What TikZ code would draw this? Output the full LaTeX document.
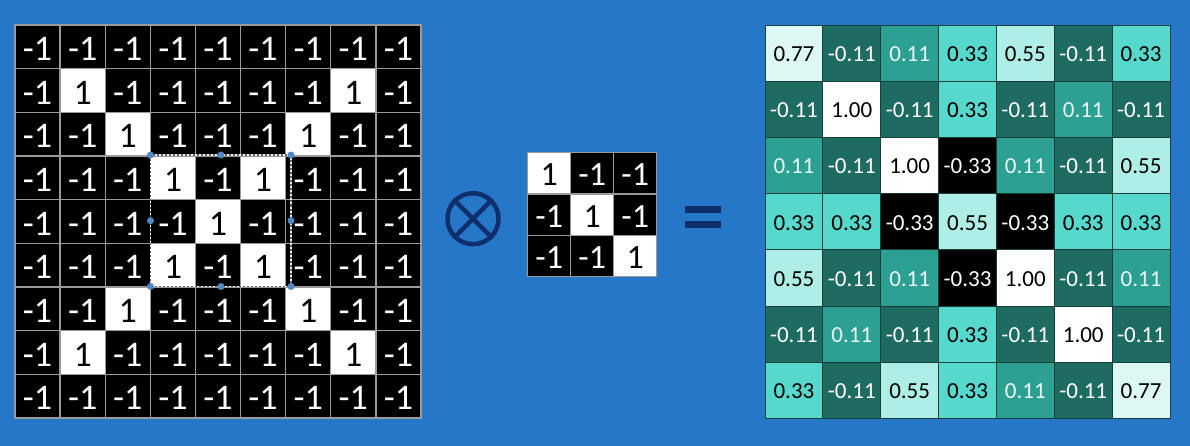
\documentclass[tikz,border=0pt]{standalone}
\usepackage{fontspec}
\setmainfont{Carlito}
\definecolor{bgblue}{HTML}{2677C7}
\definecolor{navy}{HTML}{0F2E6C}
\definecolor{tdark}{HTML}{1E6B62}
\definecolor{tmid}{HTML}{2CA093}
\definecolor{tbright}{HTML}{56D8CC}
\definecolor{tlight}{HTML}{AEEEE6}
\definecolor{tpale}{HTML}{DDF7F4}
\definecolor{gridgray}{HTML}{9A9A9A}
\definecolor{rline}{HTML}{163F3A}
\definecolor{handle}{HTML}{4F88C4}
\begin{document}
\begin{tikzpicture}[x=1pt,y=-1pt,
  lcell/.style={draw=gridgray, line width=1.3pt, minimum width=45.11pt, minimum height=43.67pt,
    inner sep=0pt, text height=27pt, font=\fontsize{36}{36}\selectfont},
  mcell/.style={draw=gridgray, line width=1.3pt, minimum width=43pt, minimum height=41.33pt,
    inner sep=0pt, text height=25pt, font=\fontsize{34}{34}\selectfont},
  rcell/.style={draw=rline, line width=0.9pt, minimum width=57.86pt, minimum height=56.19pt,
    inner sep=0pt, text height=17pt, font=\fontsize{23}{23}\selectfont},
  poscell/.style={fill=white, text=black},
  negcell/.style={fill=black, text=white},
  selbase/.style={draw=white!85!gray, line width=1.2pt},
  selbox/.style={draw=gray!80!black, line width=1.2pt, dash pattern=on 2pt off 2pt},
  seldot/.style={circle, fill=handle, inner sep=0pt, minimum size=7pt},
  opsym/.style={draw=navy, line width=4.5pt}
]
% background
\fill[bgblue] (0,0) rectangle (1190,446);

% left 9x9 grid
\foreach \r in {0,...,8}{
  \foreach \c in {0,...,8}{
    \pgfmathtruncatemacro\isone{((\r==\c) || (\r+\c==8)) && (\r>0) && (\r<8) ? 1 : 0}
    \ifnum\isone=1
      \node[lcell,poscell] (L-\r-\c) at ({15+45.11*(\c+0.5)},{25+43.67*(\r+0.5)}) {1};
    \else
      \node[lcell,negcell] (L-\r-\c) at ({15+45.11*(\c+0.5)},{25+43.67*(\r+0.5)}) {-1};
    \fi
  }
}
% selection box
\coordinate (s-nw) at (150.5,155);
\coordinate (s-se) at (291,286.5);
\draw[selbase] (s-nw) rectangle (s-se);
\draw[selbox] (s-nw) rectangle (s-se);
\foreach \p/\q in {nw/{150.5,155}, ne/{291,155}, sw/{150.5,286.5}, se/{291,286.5},
                   n/{221,155}, s/{221,286.5}, w/{150.5,220.7}, e/{291,220.7}}{
  \node[seldot] (dot-\p) at (\q) {};
}

% otimes
\node[circle, opsym, minimum size=51pt, inner sep=0pt] (otimes) at (473,218.7) {};
\draw[opsym] (otimes.north west) -- (otimes.south east);
\draw[opsym] (otimes.north east) -- (otimes.south west);

% middle 3x3 kernel
\foreach \r in {0,1,2}{
  \foreach \c in {0,1,2}{
    \ifnum\r=\c
      \node[mcell,poscell] (M-\r-\c) at ({527.7+43*(\c+0.5)},{152.7+41.33*(\r+0.5)}) {1};
    \else
      \node[mcell,negcell] (M-\r-\c) at ({527.7+43*(\c+0.5)},{152.7+41.33*(\r+0.5)}) {-1};
    \fi
  }
}

% equals sign
\fill[navy] (685,206.3) rectangle (721,212.8);
\fill[navy] (685,221.5) rectangle (721,228);

% right 7x7 result
\foreach \r/\vals in {
  0/{0.77,-0.11,0.11,0.33,0.55,-0.11,0.33},
  1/{-0.11,1.00,-0.11,0.33,-0.11,0.11,-0.11},
  2/{0.11,-0.11,1.00,-0.33,0.11,-0.11,0.55},
  3/{0.33,0.33,-0.33,0.55,-0.33,0.33,0.33},
  4/{0.55,-0.11,0.11,-0.33,1.00,-0.11,0.11},
  5/{-0.11,0.11,-0.11,0.33,-0.11,1.00,-0.11},
  6/{0.33,-0.11,0.55,0.33,0.11,-0.11,0.77}}{
  \foreach \v [count=\c from 0] in \vals {
    \ifdim\v pt<-0.2pt \def\fc{black}\def\tc{white}\else
    \ifdim\v pt<0pt \def\fc{tdark}\def\tc{white}\else
    \ifdim\v pt<0.2pt \def\fc{tmid}\def\tc{white!92!tmid}\else
    \ifdim\v pt<0.4pt \def\fc{tbright}\def\tc{black}\else
    \ifdim\v pt<0.6pt \def\fc{tlight}\def\tc{black}\else
    \ifdim\v pt<0.9pt \def\fc{tpale}\def\tc{black}\else
    \def\fc{white}\def\tc{black}\fi\fi\fi\fi\fi\fi
    \node[rcell,fill=\fc,text=\tc] (R-\r-\c) at ({765+57.86*(\c+0.5)},{25+56.19*(\r+0.5)}) {\v};
  }
}
\end{tikzpicture}
\end{document}
